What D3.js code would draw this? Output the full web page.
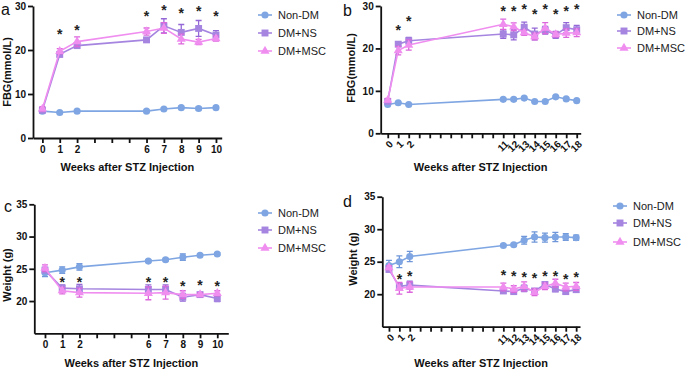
<!DOCTYPE html>
<html>
<head>
<meta charset="utf-8">
<script src="https://cdn.jsdelivr.net/npm/d3@7"></script>
<style>
    body { margin: 0; background: #fff; }
    svg { display: block; font-family: Arial, "Liberation Sans", sans-serif; }
</style>
</head>
<body>
<div id="chart"></div>
<script>
const w = 685
const h = 369
const groups = ['Non-DM', 'DM+NS', 'DM+MSC']
const colors = ['#7fa6e2', '#a585e0', '#f08ef0']
const errColors = ['#6f96d8', '#9468d6', '#dc66dc']

// panel a - FBG, 10 weeks
const weeksA = [0, 1, 2, 6, 7, 8, 9, 10]
const fbgNonDmA = [6.1, 5.8, 6.1, 6.1, 6.6, 6.9, 6.7, 6.9]
const fbgNonDmErrA = [0.3, 0.2, 0.2, 0.2, 0.3, 0.3, 0.3, 0.3]
const fbgNsA = [6.3, 19.0, 21.0, 22.3, 25.5, 24.0, 24.9, 23.4]
const fbgNsErrA = [0.5, 0.5, 0.5, 0.4, 1.6, 1.8, 1.8, 1.0]
const fbgMscA = [6.6, 19.7, 21.9, 24.2, 25.0, 22.5, 21.8, 22.6]
const fbgMscErrA = [0.5, 0.6, 1.1, 0.8, 1.2, 1.1, 0.6, 0.6]
const starWeeksA = [1, 2, 6, 7, 8, 9, 10]
const starLevelA = [24.0, 25.0, 28.1, 29.6, 28.9, 29.3, 28.1]

// panel b - FBG, 18 weeks
const weeksB = [0, 1, 2, 11, 12, 13, 14, 15, 16, 17, 18]
const fbgNonDmB = [6.8, 7.2, 6.8, 8.0, 8.0, 8.3, 7.5, 7.5, 8.6, 8.1, 7.7]
const fbgNonDmErrB = [0.3, 0.2, 0.2, 0.2, 0.3, 0.2, 0.2, 0.2, 0.2, 0.2, 0.2]
const fbgNsB = [7.5, 21.0, 21.8, 23.4, 23.2, 25.0, 23.4, 24.3, 23.2, 24.9, 24.4]
const fbgNsErrB = [0.4, 0.5, 0.8, 1.0, 1.2, 1.2, 1.4, 0.9, 0.8, 1.2, 1.0]
const fbgMscB = [7.8, 19.5, 20.8, 25.7, 25.1, 23.7, 22.8, 24.8, 23.3, 23.6, 23.7]
const fbgMscErrB = [0.4, 1.0, 1.2, 1.2, 0.9, 0.6, 0.8, 1.3, 0.6, 1.0, 0.9]
const starWeeksB = [1, 2, 11, 12, 13, 14, 15, 16, 17, 18]
const starLevelB = [24.8, 26.9, 29.4, 29.4, 29.8, 28.7, 29.8, 28.5, 29.4, 29.7]

// panel c - weight, 10 weeks
const weeksC = [0, 1, 2, 6, 7, 8, 9, 10]
const wtNonDmC = [24.4, 24.8, 25.3, 26.2, 26.4, 26.8, 27.1, 27.3]
const wtNonDmErrC = [0.6, 0.5, 0.5, 0.2, 0.2, 0.5, 0.2, 0.2]
const wtNsC = [24.8, 22.0, 21.9, 21.8, 21.8, 20.6, 21.0, 20.4]
const wtNsErrC = [0.4, 0.5, 0.7, 0.7, 0.7, 0.6, 0.3, 0.5]
const wtMscC = [25.1, 21.6, 21.3, 21.2, 21.3, 21.0, 21.0, 21.2]
const wtMscErrC = [0.5, 0.5, 0.7, 1.0, 1.0, 0.6, 0.3, 0.4]
const starWeeksC = [1, 2, 6, 7, 8, 9, 10]
const starLevelC = [23.3, 23.3, 23.3, 23.3, 22.6, 22.8, 22.6]

// panel d - weight, 18 weeks
const weeksD = [0, 1, 2, 11, 12, 13, 14, 15, 16, 17, 18]
const wtNonDmD = [24.4, 25.0, 25.8, 27.5, 27.6, 28.3, 28.8, 28.7, 28.8, 28.8, 28.7]
const wtNonDmErrD = [0.8, 0.9, 0.8, 0.15, 0.2, 0.6, 0.8, 0.7, 0.7, 0.5, 0.4]
const wtNsD = [23.8, 21.2, 21.4, 20.5, 20.4, 20.9, 20.5, 21.5, 20.8, 20.4, 20.7]
const wtNsErrD = [0.3, 0.5, 0.6, 0.3, 0.3, 0.5, 0.3, 0.4, 0.4, 0.3, 0.4]
const wtMscD = [24.1, 20.9, 21.1, 21.1, 20.8, 21.2, 20.3, 21.2, 21.7, 21.1, 21.2]
const wtMscErrD = [0.3, 0.9, 0.8, 0.6, 0.5, 0.7, 0.5, 0.5, 0.6, 0.6, 0.6]
const starWeeksD = [1, 2, 11, 12, 13, 14, 15, 16, 17, 18]
const starLevelD = [22.7, 23.1, 23.2, 23.1, 23.0, 22.8, 23.1, 23.1, 22.6, 23.0]

const panels = [
    {letter: 'a', lx: 1, ly: 15, x0: 33, x1: 221.7, xd: [-0.54, 10.33], y0: 138, y1: 6, yd: [0, 30],
        yTicks: [0, 10, 20, 30], yTitle: 'FBG(mmol/L)', yTitleX: 7, yTitleY: 72, xTitleY: 171, rotate: false, maxWeek: 10,
        weeks: weeksA, vals: [fbgNonDmA, fbgNsA, fbgMscA], errs: [fbgNonDmErrA, fbgNsErrA, fbgMscErrA],
        starWeeks: starWeeksA, starLevel: starLevelA, legX: 258, legY: [15, 33, 51]},
    {letter: 'b', lx: 343, ly: 16, x0: 380.7, x1: 580.7, xd: [-0.67, 18.38], y0: 133.3, y1: 6, yd: [0, 30],
        yTicks: [0, 10, 20, 30], yTitle: 'FBG(mmol/L)', yTitleX: 351, yTitleY: 68, xTitleY: 171, rotate: true, maxWeek: 18,
        weeks: weeksB, vals: [fbgNonDmB, fbgNsB, fbgMscB], errs: [fbgNonDmErrB, fbgNsErrB, fbgMscErrB],
        starWeeks: starWeeksB, starLevel: starLevelB, legX: 617, legY: [15, 31, 48]},
    {letter: 'c', lx: 4, ly: 212, x0: 34.3, x1: 228.3, xd: [-0.62, 10.64], y0: 333.3, y1: 204.3, yd: [15, 35],
        yTicks: [20, 25, 30, 35], yTitle: 'Weight (g)', yTitleX: 7, yTitleY: 275, xTitleY: 366.5, rotate: false, maxWeek: 10,
        weeks: weeksC, vals: [wtNonDmC, wtNsC, wtMscC], errs: [wtNonDmErrC, wtNsErrC, wtMscErrC],
        starWeeks: starWeeksC, starLevel: starLevelC, legX: 258, legY: [213, 230, 248]},
    {letter: 'd', lx: 343, ly: 207, x0: 382.3, x1: 580, xd: [-0.64, 18.37], y0: 326.7, y1: 196.7, yd: [15, 35],
        yTicks: [20, 25, 30, 35], yTitle: 'Weight (g)', yTitleX: 353, yTitleY: 259, xTitleY: 366.5, rotate: true, maxWeek: 18,
        weeks: weeksD, vals: [wtNonDmD, wtNsD, wtMscD], errs: [wtNonDmErrD, wtNsErrD, wtMscErrD],
        starWeeks: starWeeksD, starLevel: starLevelD, legX: 613, legY: [206, 223, 242]}
]

const svg = d3.select('#chart')
    .append('svg')
    .attr('width', w)
    .attr('height', h)

const symbols = [d3.symbolCircle, d3.symbolSquare, d3.symbolTriangle]
const symSizes = [40, 48, 36]

panels.forEach(p => {
    const g = svg.append('g')
    const x = d3.scaleLinear().domain(p.xd).range([p.x0, p.x1])
    const y = d3.scaleLinear().domain(p.yd).range([p.y0, p.y1])

    const xAxis = d3.axisBottom(x)
        .tickValues(d3.range(0, p.maxWeek + 1))
        .tickFormat(d => p.weeks.includes(d) ? d : '')
        .tickSize(5)
        .tickSizeOuter(0)
    const yAxis = d3.axisLeft(y)
        .tickValues(p.yTicks)
        .tickSize(5)
        .tickSizeOuter(0)

    const gx = g.append('g')
        .attr('transform', `translate(0,${p.y0})`)
        .call(xAxis)
    const gy = g.append('g')
        .attr('transform', `translate(${p.x0},0)`)
        .call(yAxis)

    ;[gx, gy].forEach(a => {
        a.selectAll('path, line').attr('stroke', '#111').attr('stroke-width', 1.8)
        a.selectAll('text').attr('fill', '#111').style('font-size', '10px').style('font-weight', 'bold')
    })
    gy.selectAll('text').attr('x', -7)
    gx.selectAll('text').attr('y', 8)
    if (p.rotate) {
        gx.selectAll('text')
            .attr('x', 0)
            .attr('y', 0)
            .attr('text-anchor', 'end')
            .attr('dy', '0.35em')
            .attr('transform', 'translate(3,9) rotate(-45)')
    }

    g.append('text')
        .attr('x', (p.x0 + p.x1) / 2)
        .attr('y', p.xTitleY)
        .attr('text-anchor', 'middle')
        .style('font-size', '11px')
        .style('font-weight', 'bold')
        .attr('fill', '#111')
        .text('Weeks after STZ Injection')

    g.append('text')
        .attr('transform', `translate(${p.yTitleX},${p.yTitleY}) rotate(-90)`)
        .attr('text-anchor', 'middle')
        .attr('dy', '0.35em')
        .style('font-size', '11px')
        .style('font-weight', 'bold')
        .attr('fill', '#111')
        .text(p.yTitle)

    g.append('text')
        .attr('x', p.lx)
        .attr('y', p.ly)
        .style('font-size', '16px')
        .attr('fill', '#111')
        .text(p.letter)

    groups.forEach((name, gi) => {
        const pts = p.weeks.map((wk, i) => ({wk: wk, v: p.vals[gi][i], e: p.errs[gi][i]}))
        const sg = g.append('g')

        sg.selectAll('.err')
            .data(pts)
            .enter()
            .append('path')
            .attr('d', d => {
                const cx = x(d.wk), t = y(d.v + d.e), b = y(d.v - d.e)
                return `M${cx - 3},${t}H${cx + 3}M${cx},${t}V${b}M${cx - 3},${b}H${cx + 3}`
            })
            .attr('fill', 'none')
            .attr('stroke', errColors[gi])
            .attr('stroke-width', 1.3)

        sg.append('path')
            .datum(pts)
            .attr('d', d3.line().x(d => x(d.wk)).y(d => y(d.v)))
            .attr('fill', 'none')
            .attr('stroke', colors[gi])
            .attr('stroke-width', 1.6)

        sg.selectAll('.pt')
            .data(pts)
            .enter()
            .append('path')
            .attr('d', d3.symbol().type(symbols[gi]).size(symSizes[gi]))
            .attr('transform', d => `translate(${x(d.wk)},${y(d.v)})`)
            .attr('fill', colors[gi])
    })

    g.selectAll('.star')
        .data(p.starWeeks)
        .enter()
        .append('text')
        .attr('x', d => x(d))
        .attr('y', (d, i) => y(p.starLevel[i]))
        .attr('dy', '0.5em')
        .attr('text-anchor', 'middle')
        .style('font-size', '14px')
        .style('font-weight', 'bold')
        .attr('fill', '#222')
        .text('*')

    const leg = g.append('g')
    groups.forEach((name, gi) => {
        leg.append('line')
            .attr('x1', p.legX)
            .attr('x2', p.legX + 14)
            .attr('y1', p.legY[gi])
            .attr('y2', p.legY[gi])
            .attr('stroke', colors[gi])
            .attr('stroke-width', 1.6)
        leg.append('path')
            .attr('d', d3.symbol().type(symbols[gi]).size(symSizes[gi]))
            .attr('transform', `translate(${p.legX + 7},${p.legY[gi]})`)
            .attr('fill', colors[gi])
        leg.append('text')
            .attr('x', p.legX + 20)
            .attr('y', p.legY[gi])
            .attr('dy', '0.35em')
            .style('font-size', '11px')
            .attr('fill', '#222')
            .text(name)
    })
})
</script>
</body>
</html>
